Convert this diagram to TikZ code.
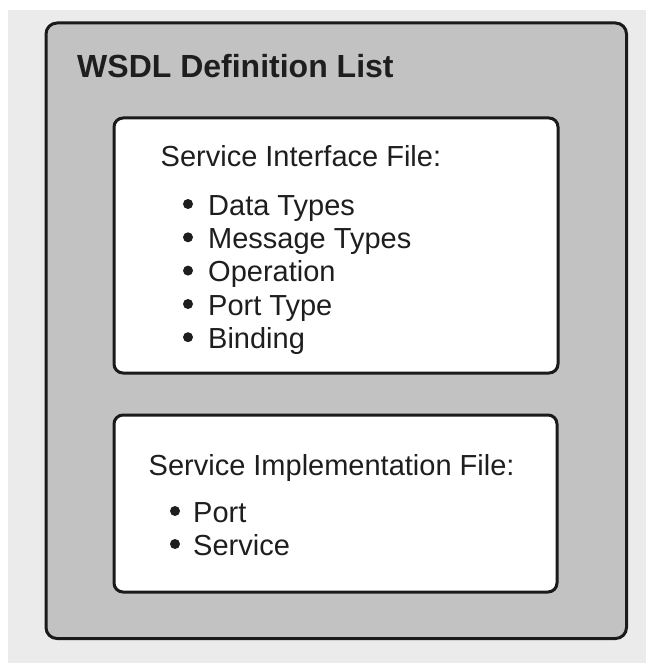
\documentclass[tikz,border=0pt]{standalone}
\usepackage{fontspec}
\setmainfont{Liberation Sans}
\definecolor{pagegray}{HTML}{EBEBEB}
\definecolor{boxgray}{HTML}{C2C2C2}
\definecolor{edge}{HTML}{1A1A1A}
\definecolor{ink}{HTML}{1E1E1E}
\begin{document}
\begin{tikzpicture}[x=1pt,y=-1pt,
  outerbox/.style={draw=edge,fill=boxgray,line width=3pt,rounded corners=11pt},
  innerbox/.style={draw=edge,fill=white,line width=3pt,rounded corners=9pt},
  titletext/.style={anchor=base west,inner sep=0pt,text=ink,font=\fontsize{32}{36}\selectfont\bfseries},
  headtext/.style={anchor=base west,inner sep=0pt,text=ink,font=\fontsize{29}{33}\selectfont},
  itemtext/.style={anchor=base west,inner sep=0pt,text=ink,font=\fontsize{29}{33}\selectfont}]
\useasboundingbox (0,0) rectangle (646,663);
\fill[white] (0,0) rectangle (646,663);
\fill[pagegray] (8,10) rectangle (646,663);
\draw[outerbox] (46,23) rectangle (626.5,638.5);
\draw[innerbox] (114,118) rectangle (558,373);
\draw[innerbox] (114,415) rectangle (557,592);
\node[titletext] (title) at (77,78) {WSDL Definition List};
\node[headtext] (sif) at (160.5,167) {Service Interface File:};
\node[itemtext] (i1) at (208,215) {Data Types};
\node[itemtext] (i2) at (208,248.3) {Message Types};
\node[itemtext] (i3) at (208,281.6) {Operation};
\node[itemtext] (i4) at (208,315) {Port Type};
\node[itemtext] (i5) at (208,348.2) {Binding};
\node[headtext] (sim) at (148.5,475) {Service Implementation File:};
\node[itemtext] (j1) at (193,522) {Port};
\node[itemtext] (j2) at (193,555) {Service};
\foreach \n in {i1,i2,i3,i4,i5}
  \fill[ink] ([xshift=-20pt,yshift=11pt]\n.base west) circle (5pt);
\foreach \n in {j1,j2}
  \fill[ink] ([xshift=-18pt,yshift=11pt]\n.base west) circle (5pt);
\end{tikzpicture}
\end{document}
